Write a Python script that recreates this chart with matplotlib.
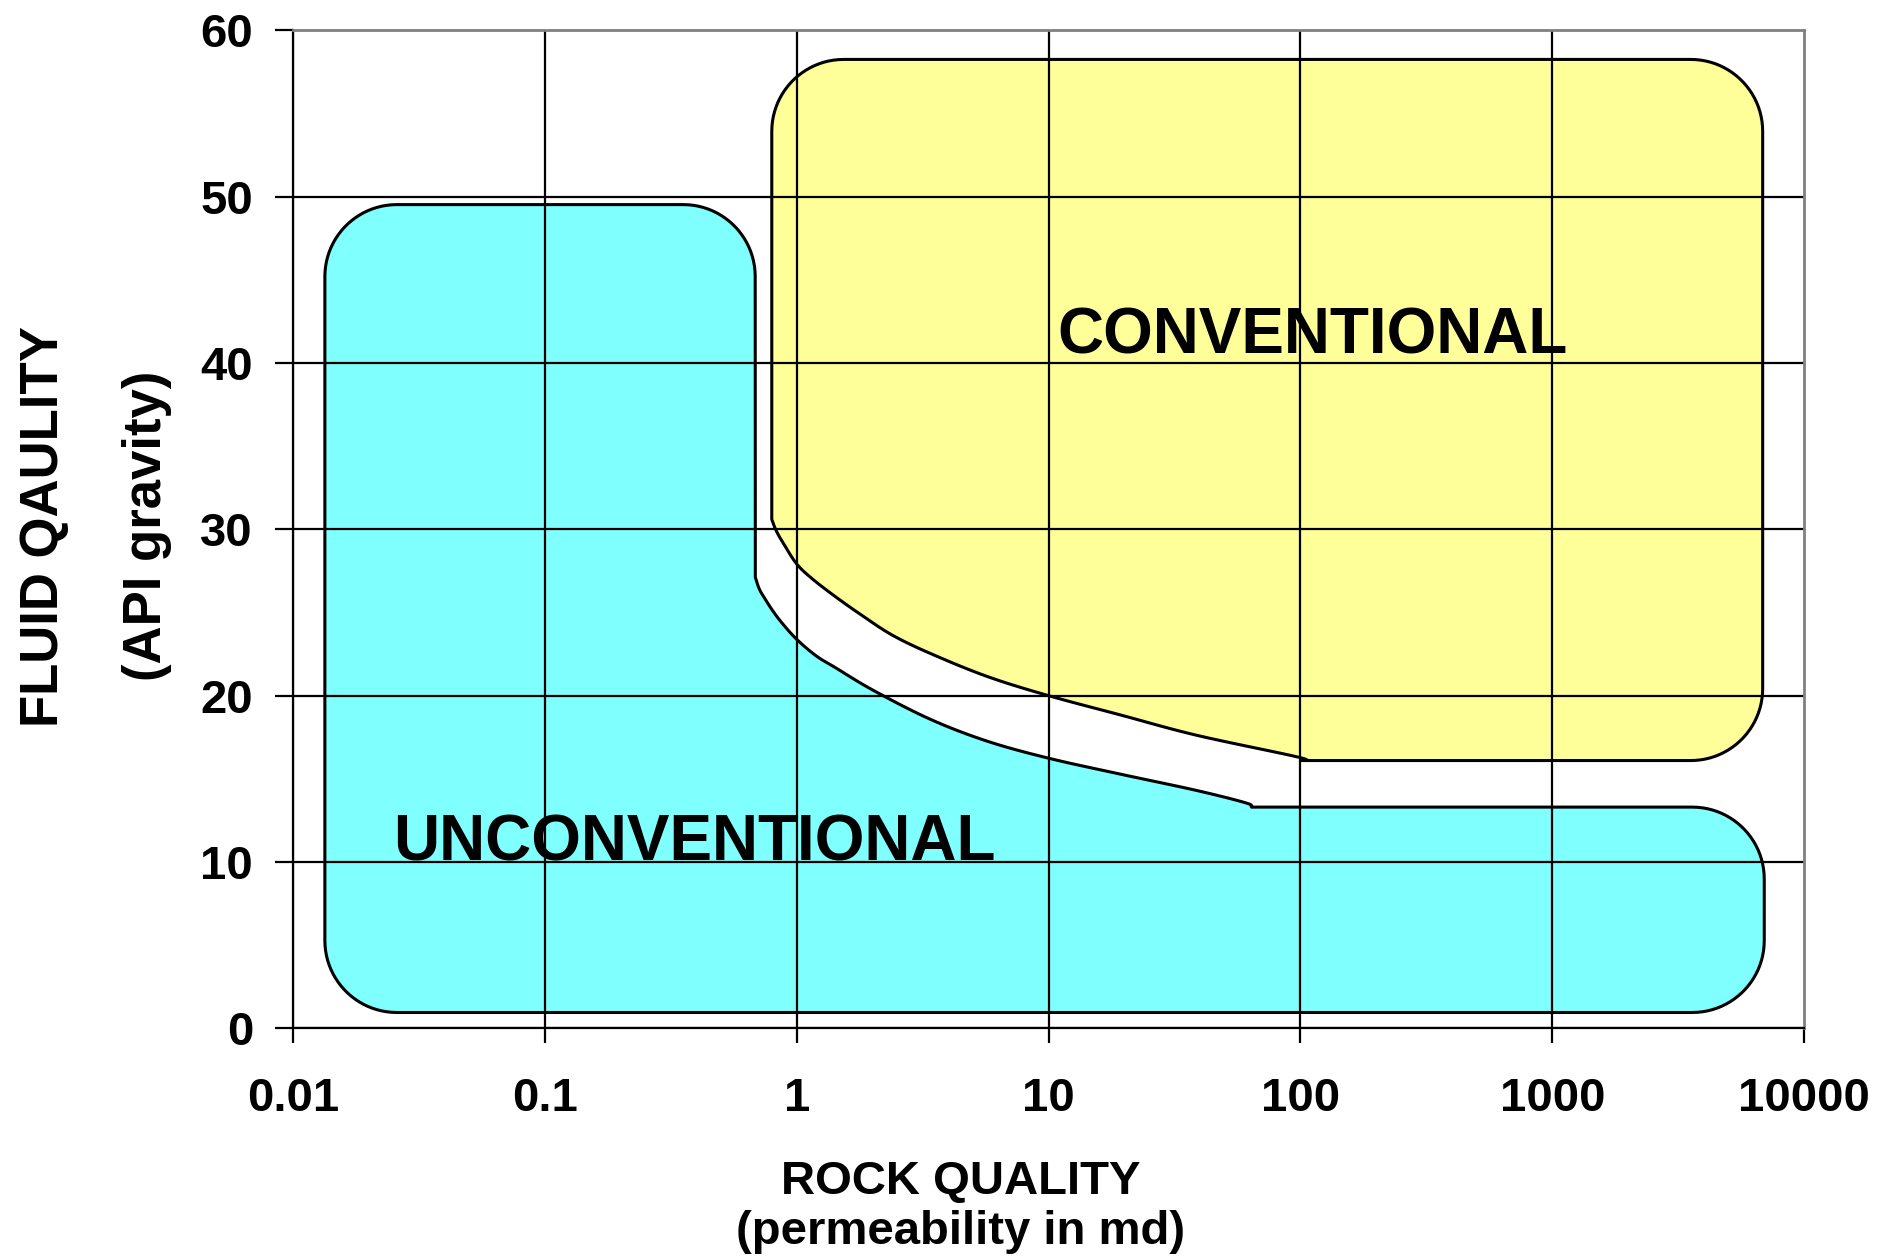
import numpy as np
import matplotlib
matplotlib.use("Agg")
import matplotlib.pyplot as plt
from matplotlib.ticker import FixedLocator, FixedFormatter, NullLocator

plt.rcParams['font.family'] = ['Liberation Sans', 'DejaVu Sans']
plt.rcParams['font.weight'] = 'bold'

# axis data
x_ticks = [0.01, 0.1, 1, 10, 100, 1000, 10000]
x_tick_labels = ['0.01', '0.1', '1', '10', '100', '1000', '10000']
y_ticks = [0, 10, 20, 30, 40, 50, 60]

# unconventional region outline (permeability md, API gravity)
# kinds: r = rounded corner, c = sharp point, s = point on a smooth curve
unconv_x = [0.01335, 6950, 6950, 64, 60.8, 38.7, 19.3, 10, 5.713, 3.39, 2.012, 1.421,
            1.194, 1.0, 0.873, 0.800, 0.747, 0.709, 0.684, 0.683, 0.01335]
unconv_y = [0.95, 0.95, 13.3, 13.3, 13.55, 14.3, 15.28, 16.24, 17.26, 18.58, 20.32, 21.69,
            22.39, 23.38, 24.37, 25.13, 25.83, 26.42, 27.12, 49.53, 49.53]
unconv_kind = ['r', 'r', 'r', 'c'] + ['s'] * 14 + ['c', 'r', 'r']

# conventional region outline
conv_x = [0.795, 0.795, 6850, 6850, 100, 98.3, 38.7, 19.3, 10, 5.713, 3.39, 2.394,
          1.813, 1.421, 1.153, 1.0, 0.889, 0.829]
conv_y = [30.6, 58.26, 58.26, 16.1, 16.1, 16.3, 17.62, 18.84, 20.0, 21.15, 22.54, 23.64,
          24.83, 25.96, 27.02, 27.91, 29.1, 29.9]
conv_kind = ['c', 'r', 'r', 'r', 'c'] + ['s'] * 13

conv_label = ('CONVENTIONAL', 111.4, 40.55)
unconv_label = ('UNCONVENTIONAL', 0.3916, 10.1)


def bezier(a, c1, c2, b, n):
    t = np.linspace(0, 1, n)[:, None]
    return ((1 - t) ** 3) * a + 3 * ((1 - t) ** 2 * t) * c1 + 3 * ((1 - t) * t ** 2) * c2 + (t ** 3) * b


def outline(ax, xs, ys, kinds, r=72, n=24):
    # build the outline in screen space (rounded corners, smooth curves), return data coords
    P = ax.transData.transform(np.column_stack([xs, ys]))
    m = len(P)
    out = []
    k = 0.5523
    for i in range(m):
        p = P[i]
        kind = kinds[i]
        j = (i + 1) % m
        if kind == 'r':
            prv, nxt = P[i - 1], P[j]
            d1 = np.linalg.norm(prv - p)
            d2 = np.linalg.norm(nxt - p)
            a = p + (prv - p) / d1 * min(r, d1 / 2)
            b = p + (nxt - p) / d2 * min(r, d2 / 2)
            out.extend(bezier(a, a + k * (p - a), b + k * (p - b), b, n))
        else:
            out.append(p)
        if 'r' not in (kind, kinds[j]) and 's' in (kind, kinds[j]):
            q = P[j]
            p0 = P[i - 1] if kind == 's' else 2 * p - q
            p3 = P[(j + 1) % m] if kinds[j] == 's' else 2 * q - p
            seg = bezier(p, p + (q - p0) / 6, q - (p3 - p) / 6, q, 10)
            out.extend(seg[1:-1])
    return ax.transData.inverted().transform(np.array(out))


fig = plt.figure(figsize=(18.8, 12.6), dpi=100)
ax = fig.add_axes([0.156, 0.1839, 0.8036, 0.7919])

ax.set_xscale('log')
ax.set_xlim(0.01, 10000)
ax.set_ylim(0, 60)

ax.xaxis.set_major_locator(FixedLocator(x_ticks))
ax.xaxis.set_major_formatter(FixedFormatter(x_tick_labels))
ax.xaxis.set_minor_locator(NullLocator())
ax.set_yticks(y_ticks)

ax.grid(True, color='black', linewidth=1.6)
ax.xaxis.get_gridlines()[-1].set_visible(False)
ax.yaxis.get_gridlines()[-1].set_visible(False)

for side in ['left', 'bottom']:
    ax.spines[side].set_color('black')
    ax.spines[side].set_linewidth(1.6)
for side in ['top', 'right']:
    ax.spines[side].set_color('#808080')
    ax.spines[side].set_linewidth(2.0)

ax.tick_params(axis='y', direction='out', length=13, width=1.6, pad=16, labelsize=34)
ax.tick_params(axis='x', direction='out', length=11, width=1.6, pad=24, labelsize=34)

# regions
cyan = outline(ax, unconv_x, unconv_y, unconv_kind)
ax.fill(cyan[:, 0], cyan[:, 1], facecolor='#80FFFF', edgecolor='black', linewidth=2.2, zorder=1)
yellow = outline(ax, conv_x, conv_y, conv_kind)
ax.fill(yellow[:, 0], yellow[:, 1], facecolor='#FFFF99', edgecolor='black', linewidth=2.2, zorder=1)

ax.text(conv_label[1], conv_label[2], conv_label[0], fontsize=46, fontweight='bold',
        ha='center', va='baseline', zorder=4)
ax.text(unconv_label[1], unconv_label[2], unconv_label[0], fontsize=46, fontweight='bold',
        ha='center', va='baseline', zorder=4)

# axis titles
fig.text(0.511, 0.042, 'ROCK QUALITY\n(permeability in md)', fontsize=34, fontweight='bold',
         ha='center', va='center', linespacing=1.2)
fig.text(0.0235, 0.5825, 'FLUID QAULITY', fontsize=38, fontweight='bold',
         rotation=90, ha='center', va='center')
fig.text(0.078, 0.5825, '(API gravity)', fontsize=38, fontweight='bold',
         rotation=90, ha='center', va='center')

plt.savefig('out.png', dpi=100, facecolor='white')
plt.close()
